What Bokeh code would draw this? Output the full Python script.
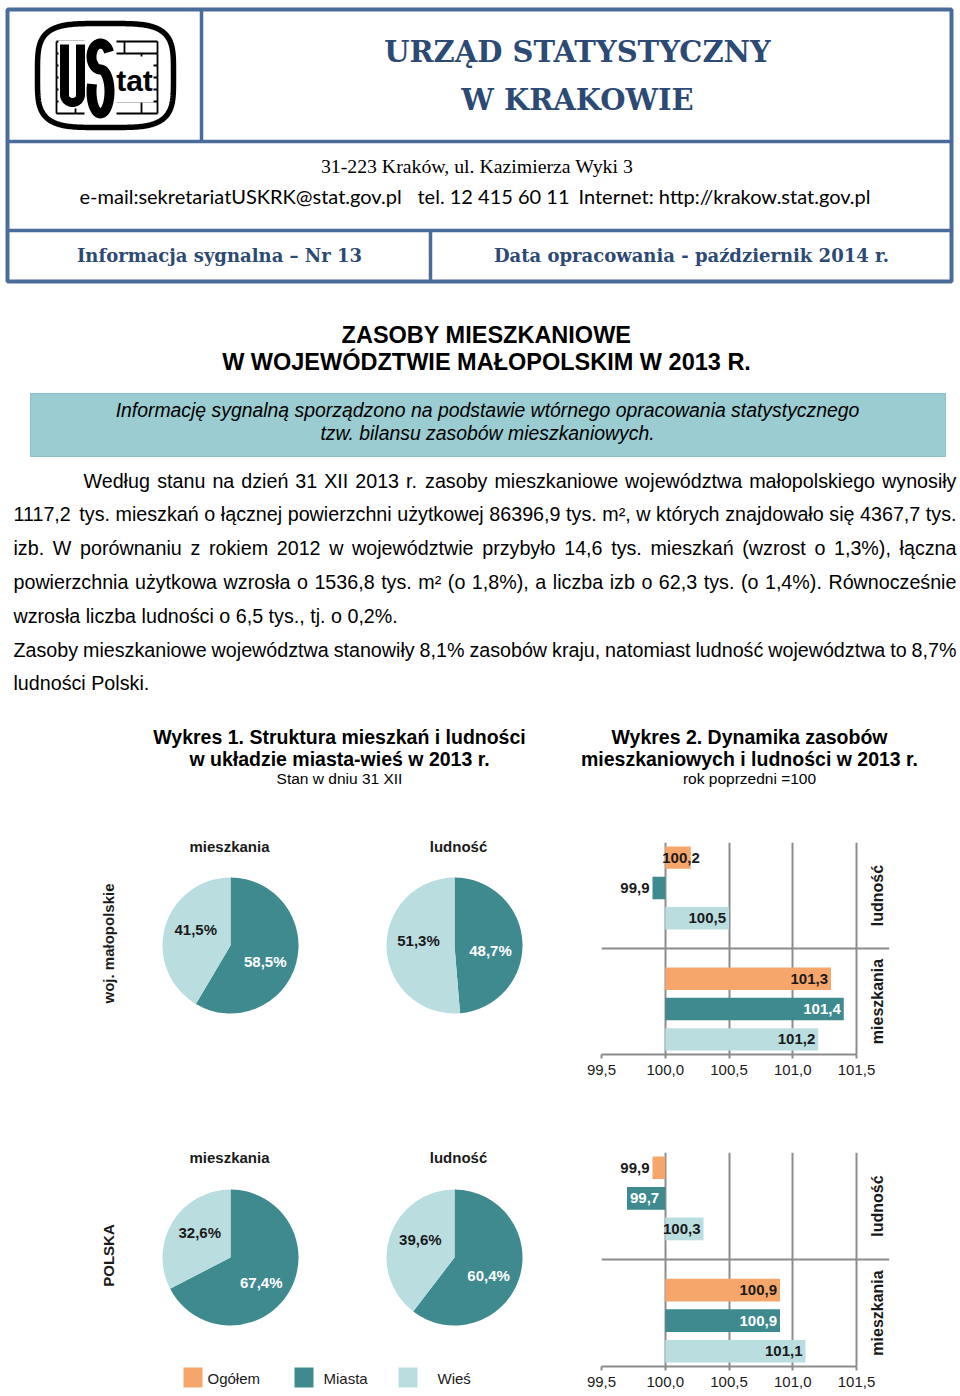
import numpy as np
from bokeh.plotting import figure
from bokeh.models import Range1d, FixedTicker, Span, CustomJSTickFormatter
from bokeh.layouts import column, row
from bokeh.embed import file_html
from bokeh.resources import INLINE
from bokeh.core.properties import value

# ---------------------------------------------------------------- data
SERIES = ["Ogółem", "Miasta", "Wieś"]
PIE_SERIES = ["Miasta", "Wieś"]
PIE_PANELS = ["mieszkania", "ludność"]
ROW_LABELS = ["woj. małopolskie", "POLSKA"]

# shares in % (Miasta, Wieś)
PIE_MALOPOLSKIE_MIESZKANIA = [58.5, 41.5]
PIE_MALOPOLSKIE_LUDNOSC = [48.7, 51.3]
PIE_POLSKA_MIESZKANIA = [67.4, 32.6]
PIE_POLSKA_LUDNOSC = [60.4, 39.6]

# dynamics, previous year = 100 (Ogółem, Miasta, Wieś)
BAR_CATEGORIES = ["ludność", "mieszkania"]
BAR_MALOPOLSKIE_LUDNOSC = [100.2, 99.9, 100.5]
BAR_MALOPOLSKIE_MIESZKANIA = [101.3, 101.4, 101.2]
BAR_POLSKA_LUDNOSC = [99.9, 99.7, 100.3]
BAR_POLSKA_MIESZKANIA = [100.9, 100.9, 101.1]
BAR_BASE = 100.0
BAR_TICKS = [99.5, 100.0, 100.5, 101.0, 101.5]

HEADER_TITLE = ["URZĄD STATYSTYCZNY", "W KRAKOWIE"]
HEADER_ADDRESS = "31-223 Kraków,  ul. Kazimierza Wyki 3"
HEADER_CONTACT = ["e-mail:sekretariatUSKRK@stat.gov.pl", "tel. 12 415 60 11",
                  "Internet: http://krakow.stat.gov.pl"]
INFO_LEFT = "Informacja sygnalna – Nr 13"
INFO_RIGHT = "Data opracowania - październik 2014 r."
TITLE_LINES = ["ZASOBY MIESZKANIOWE", "W WOJEWÓDZTWIE MAŁOPOLSKIM W 2013 R."]
NOTE_LINES = ["Informację sygnalną sporządzono na podstawie wtórnego opracowania statystycznego",
              "tzw. bilansu zasobów mieszkaniowych."]
BODY_P1 = [
    "Według stanu na dzień 31 XII 2013 r. zasoby mieszkaniowe województwa małopolskiego wynosiły",
    "1117,2 tys. mieszkań o łącznej powierzchni użytkowej 86396,9 tys. m², w których znajdowało się 4367,7 tys.",
    "izb. W porównaniu z rokiem 2012 w województwie przybyło 14,6 tys. mieszkań (wzrost o 1,3%), łączna",
    "powierzchnia użytkowa wzrosła o 1536,8 tys. m² (o 1,8%), a liczba izb o 62,3 tys. (o 1,4%). Równocześnie",
    "wzrosła liczba ludności o 6,5 tys., tj. o 0,2%.",
]
BODY_P2 = [
    "Zasoby mieszkaniowe województwa stanowiły 8,1% zasobów kraju, natomiast ludność województwa to 8,7%",
    "ludności Polski.",
]
CHART1_TITLE = ["Wykres 1. Struktura mieszkań i ludności", "w układzie miasta-wieś w 2013 r."]
CHART1_SUB = "Stan w dniu 31 XII"
CHART2_TITLE = ["Wykres 2. Dynamika zasobów", "mieszkaniowych i ludności w 2013 r."]
CHART2_SUB = "rok poprzedni =100"

# ---------------------------------------------------------------- style
COLORS = {"Ogółem": "#F6A66B", "Miasta": "#3E8A8F", "Wieś": "#BADDE0"}
FONT = "Liberation Sans"
SERIF = "Liberation Serif"
SLAB = "DejaVu Serif"
BLUE = "#2C4A74"
BORDER = "#4A6C9B"
GRID = "#8C8C8C"
INK = "#1A1A1A"

W = 960
TOP_H = 800
ROW1_H = 310
ROW2_H = 286
ROW1_BORDERS = (42, 56)
ROW2_BORDERS = (42, 30)
LEFT_W = 560
BAR_W = W - LEFT_W
PX_PER_UNIT = 127.5
X_END = BAR_TICKS[-1] + 33 / PX_PER_UNIT
LABEL_W = 38 / PX_PER_UNIT

# Arial / Liberation Sans advance widths, used to justify body lines
AW = {' ': 278, ',': 278, '.': 278, '-': 333, '(': 333, ')': 333, '%': 889, '²': 333, ':': 278, '/': 278}
AW.update({d: 556 for d in "0123456789"})
AW.update(dict(a=556, b=556, c=500, d=556, e=556, f=278, g=556, h=556, i=222, j=222, k=500, l=222,
               m=833, n=556, o=556, p=556, q=556, r=333, s=500, t=278, u=556, v=500, w=722, x=500,
               y=500, z=500))
AW.update(dict(A=667, B=667, C=722, D=722, E=667, F=611, G=778, H=722, I=278, J=500, K=667, L=556,
               M=833, N=722, O=778, P=667, Q=778, R=722, S=667, T=611, U=722, V=667, W=944, X=667,
               Y=667, Z=611))
AW.update({'ą': 556, 'ć': 500, 'ę': 556, 'ł': 222, 'ń': 556, 'ó': 556, 'ś': 500, 'ź': 500,
           'ż': 500, 'Ł': 556, 'Ó': 778, 'Ś': 667, 'Ż': 611})


def text_width(s, size):
    return sum(AW.get(ch, 556) for ch in s) / 1000.0 * size


def fmt(v):
    return f"{v:.1f}".replace(".", ",")


def page_fig(w, h, top, tb=0, bb=0):
    p = figure(width=w, height=h, x_range=Range1d(0, w), y_range=Range1d(-(top + h - bb), -(top + tb)),
               output_backend="svg", toolbar_location=None, min_border_left=0,
               min_border_right=0, min_border_top=tb, min_border_bottom=bb,
               x_axis_location=None, y_axis_location=None)
    p.outline_line_color = None
    p.grid.grid_line_color = None
    p.background_fill_color = "white"
    p.border_fill_color = "white"
    return p


def txt(p, x, y, s, size, font=FONT, color=INK, style="normal", align="center",
        baseline="middle", angle=0.0):
    p.text(x=[x], y=[-y], text=[s], text_font=value(font), text_font_size=f"{size}px",
           text_font_style=style, text_color=color, text_align=align,
           text_baseline=baseline, angle=angle, level="annotation")


def body_line(p, line, y, x0, x1, size, justify):
    words = line.split(" ")
    widths = [text_width(wd, size) for wd in words]
    if justify and len(words) > 1:
        gap = (x1 - x0 - sum(widths)) / (len(words) - 1)
    else:
        gap = text_width(" ", size)
    xs, x = [], x0
    for wd in widths:
        xs.append(x)
        x += wd + gap
    p.text(x=xs, y=[-y] * len(words), text=words, text_font=value(FONT),
           text_font_size=f"{size}px", text_color="black", text_align="left",
           text_baseline="middle")


def ellipse_arc(cx, cy, rx, ry, a0, a1, n=40):
    a = np.radians(np.linspace(a0, a1, n))
    return cx + rx * np.cos(a), -(cy - ry * np.sin(a))


# ---------------------------------------------------------------- header / text
hdr = page_fig(W, TOP_H, 0)
hdr.quad(left=7, right=951, top=-9, bottom=-281, fill_color=None, line_color=BORDER, line_width=4)
hdr.segment(x0=[201, 7, 7, 430], y0=[-9, -141, -230, -230], x1=[201, 951, 951, 430],
            y1=[-141, -141, -230, -281], line_color=BORDER, line_width=3.5)

# logo (decorative drawing)
t = np.linspace(0, 2 * np.pi, 241)
ex = 4.0
lx = 105 + 68 * np.sign(np.cos(t)) * np.abs(np.cos(t)) ** (2 / ex)
ly = -(75 + 52 * np.sign(np.sin(t)) * np.abs(np.sin(t)) ** (2 / ex))
hdr.patch(lx, ly, fill_color="white", line_color="black", line_width=5.5)
gy = [41, 53, 65, 77, 89, 101, 113]
hdr.segment(x0=[56] * len(gy), x1=[157] * len(gy), y0=[-v for v in gy], y1=[-v for v in gy],
            line_color="black", line_width=1.8)
bx0, by0, by1 = [], [], []
for i in range(len(gy) - 1):
    cols = [56, 91, 124, 157] if i % 2 == 0 else [56, 75, 108, 141, 157]
    for c in cols:
        bx0.append(c)
        by0.append(-gy[i])
        by1.append(-gy[i + 1])
hdr.segment(x0=bx0, x1=bx0, y0=by0, y1=by1, line_color="black", line_width=1.8)
hdr.quad(left=[58, 84, 115], right=[86, 116, 153], top=[-40, -33, -56], bottom=[-108, -121, -102],
         fill_color="white", line_color=None)
# U
ux, uy = ellipse_arc(72, 94, 8, 8, 180, 360)
hdr.line(np.concatenate([[64], ux, [80]]), np.concatenate([[-44], uy, [-44]]),
         line_color="black", line_width=9, line_cap="butt", line_join="round")
# S
sx1, sy1 = ellipse_arc(100, 56, 9, 13, 20, 270)
sx2, sy2 = ellipse_arc(100, 91, 9, 22, 90, -200)
hdr.line(np.concatenate([sx1, sx2]), np.concatenate([sy1, sy2]), line_color="black",
         line_width=10, line_cap="butt", line_join="round")
txt(hdr, 134, 80, "tat", 30, color="black", style="bold")

txt(hdr, 577, 51, HEADER_TITLE[0], 29, font=SLAB, color=BLUE, style="bold")
txt(hdr, 577, 99, HEADER_TITLE[1], 29, font=SLAB, color=BLUE, style="bold")
txt(hdr, 479, 165, HEADER_ADDRESS, 19.8, font=SERIF, color="black")
for s, x in zip(HEADER_CONTACT, [79, 417, 578]):
    txt(hdr, x, 195, s, 20, font="Lato", color="black", align="left")
txt(hdr, 219, 255, INFO_LEFT, 18, font=SLAB, color=BLUE, style="bold")
txt(hdr, 691, 255, INFO_RIGHT, 18, font=SLAB, color=BLUE, style="bold")

txt(hdr, 486, 334, TITLE_LINES[0], 23.5, color="black", style="bold")
txt(hdr, 486, 361, TITLE_LINES[1], 23.5, color="black", style="bold")

hdr.quad(left=30, right=945, top=-393, bottom=-456, fill_color="#9ACCD1", line_color="#8CC0C6",
         line_width=1)
txt(hdr, 487, 409, NOTE_LINES[0], 19.4, color="black", style="italic")
txt(hdr, 487, 432, NOTE_LINES[1], 19.4, color="black", style="italic")

y = 480
for i, line in enumerate(BODY_P1):
    body_line(hdr, line, y, 83 if i == 0 else 13, 956, 19.7, i < len(BODY_P1) - 1)
    y += 33.8
for i, line in enumerate(BODY_P2):
    body_line(hdr, line, y, 13, 956, 19.7, i < len(BODY_P2) - 1)
    y += 33.8

txt(hdr, 339, 736, CHART1_TITLE[0], 19.5, color="black", style="bold")
txt(hdr, 339, 758, CHART1_TITLE[1], 19.5, color="black", style="bold")
txt(hdr, 339, 778, CHART1_SUB, 15.5, color="black")
txt(hdr, 749, 736, CHART2_TITLE[0], 19.5, color="black", style="bold")
txt(hdr, 749, 758, CHART2_TITLE[1], 19.5, color="black", style="bold")
txt(hdr, 749, 778, CHART2_SUB, 15.5, color="black")

# ---------------------------------------------------------------- pies
PIE_CX = [230, 454]
PIE_TITLE_X = [229, 458]
PIE_R = 68
LABEL_SHIFT = {"Miasta": 6, "Wieś": -6}   # vertical separation of inside labels (px)


def pie_fig(h, top, borders, shares_list, row_label, cy, title_y, legend=False):
    p = page_fig(LEFT_W, h, top, borders[0], borders[1])
    txt(p, 108, cy - 2, row_label, 15, style="bold", angle=np.pi / 2)
    for k, (panel, shares) in enumerate(zip(PIE_PANELS, shares_list)):
        cx = PIE_CX[k]
        txt(p, PIE_TITLE_X[k], title_y, panel, 15, style="bold")
        cum = np.concatenate([[0.0], np.cumsum(shares)]) / 100.0
        starts = np.pi / 2 - 2 * np.pi * cum[:-1]
        ends = np.pi / 2 - 2 * np.pi * cum[1:]
        p.wedge(x=cx, y=-cy, radius=PIE_R, start_angle=list(starts), end_angle=list(ends),
                direction="clock", fill_color=[COLORS[s] for s in PIE_SERIES], line_color=None)
        for share, a0, a1, name in zip(shares, starts, ends, PIE_SERIES):
            mid = (a0 + a1) / 2
            txt(p, cx + 0.53 * PIE_R * np.cos(mid),
                cy - 0.53 * PIE_R * np.sin(mid) + LABEL_SHIFT[name],
                fmt(share) + "%", 15, style="bold",
                color="white" if name == "Miasta" else INK)
    if legend:
        lx0 = [183, 294, 398]
        tx0 = [207, 323, 437]
        p.quad(left=lx0, right=[v + 19 for v in lx0], top=[-1367] * 3, bottom=[-1387] * 3,
               fill_color=[COLORS[s] for s in SERIES], line_color=None, level="annotation")
        for s, x in zip(SERIES, tx0):
            txt(p, x, 1378, s, 15, color=INK, align="left")
    return p


# ---------------------------------------------------------------- bars
def bar_fig(h, borders, ludnosc, mieszkania):
    p = figure(width=BAR_W, height=h, x_range=Range1d(BAR_TICKS[0], X_END),
               y_range=Range1d(-0.5, 6.5), output_backend="svg", toolbar_location=None,
               y_axis_location=None, min_border_left=41, min_border_right=71,
               min_border_top=borders[0], min_border_bottom=borders[1])
    p.outline_line_color = None
    p.background_fill_color = "white"
    p.border_fill_color = "white"
    p.ygrid.grid_line_color = None
    p.xgrid.ticker = FixedTicker(ticks=BAR_TICKS)
    p.xgrid.grid_line_color = GRID
    p.xgrid.grid_line_width = 2
    ax = p.xaxis[0]
    ax.ticker = FixedTicker(ticks=BAR_TICKS)
    ax.formatter = CustomJSTickFormatter(code="return tick.toFixed(1).replace('.', ',');")
    ax.bounds = (BAR_TICKS[0], BAR_TICKS[-1])
    ax.axis_line_color = GRID
    ax.axis_line_width = 2
    ax.major_tick_line_color = GRID
    ax.major_tick_line_width = 2
    ax.major_tick_out = 4
    ax.major_tick_in = 0
    ax.minor_tick_line_color = None
    ax.major_label_text_font = FONT
    ax.major_label_text_font_size = "15px"
    ax.major_label_text_color = INK
    ax.major_label_standoff = 6
    p.add_layout(Span(location=3, dimension="width", line_color=GRID, line_width=2))

    ys, vals, cols = [], [], []
    for c, values in enumerate([ludnosc, mieszkania]):
        for s, v in enumerate(values):
            ys.append(6 - (4 * c + s))
            vals.append(v)
            cols.append(COLORS[SERIES[s]])
    p.hbar(y=ys, left=BAR_BASE, right=vals, height=0.74, fill_color=cols, line_color=None)

    for i, (yy, v) in enumerate(zip(ys, vals)):
        name = SERIES[i % 3]
        length = abs(v - BAR_BASE)
        fits = length >= 0.9 * LABEL_W
        if v >= BAR_BASE:
            if fits:
                x, align, off = v, "right", -3
            else:
                x, align, off = (v + BAR_BASE) / 2, "center", 3
            inside = True
        else:
            if fits:
                x, align, off, inside = v, "left", 3, True
            else:
                x, align, off, inside = v, "right", -3, False
        color = "white" if (inside and name == "Miasta") else INK
        p.text(x=[x], y=[yy], text=[fmt(v)], x_offset=off, text_font=value(FONT),
               text_font_size="15px", text_font_style="bold", text_color=color,
               text_align=align, text_baseline="middle")

    xl = (BAR_TICKS[-1] + X_END) / 2
    for c, cat in enumerate(BAR_CATEGORIES):
        p.text(x=[xl], y=[4.75 - 3.5 * c], text=[cat], x_offset=4, text_font=value(FONT),
               text_font_size="16px", text_font_style="bold", text_color=INK,
               text_align="center", text_baseline="middle", angle=np.pi / 2)
    return p


pie1 = pie_fig(ROW1_H, TOP_H, ROW1_BORDERS, [PIE_MALOPOLSKIE_MIESZKANIA, PIE_MALOPOLSKIE_LUDNOSC],
               ROW_LABELS[0], 945, 846)
bar1 = bar_fig(ROW1_H, ROW1_BORDERS, BAR_MALOPOLSKIE_LUDNOSC, BAR_MALOPOLSKIE_MIESZKANIA)
pie2 = pie_fig(ROW2_H, TOP_H + ROW1_H, ROW2_BORDERS, [PIE_POLSKA_MIESZKANIA, PIE_POLSKA_LUDNOSC],
               ROW_LABELS[1], 1257, 1157, legend=True)
bar2 = bar_fig(ROW2_H, ROW2_BORDERS, BAR_POLSKA_LUDNOSC, BAR_POLSKA_MIESZKANIA)

layout = column(hdr, row(pie1, bar1, spacing=0), row(pie2, bar2, spacing=0), spacing=0)

open("out.html", "w").write(file_html(layout, INLINE))
